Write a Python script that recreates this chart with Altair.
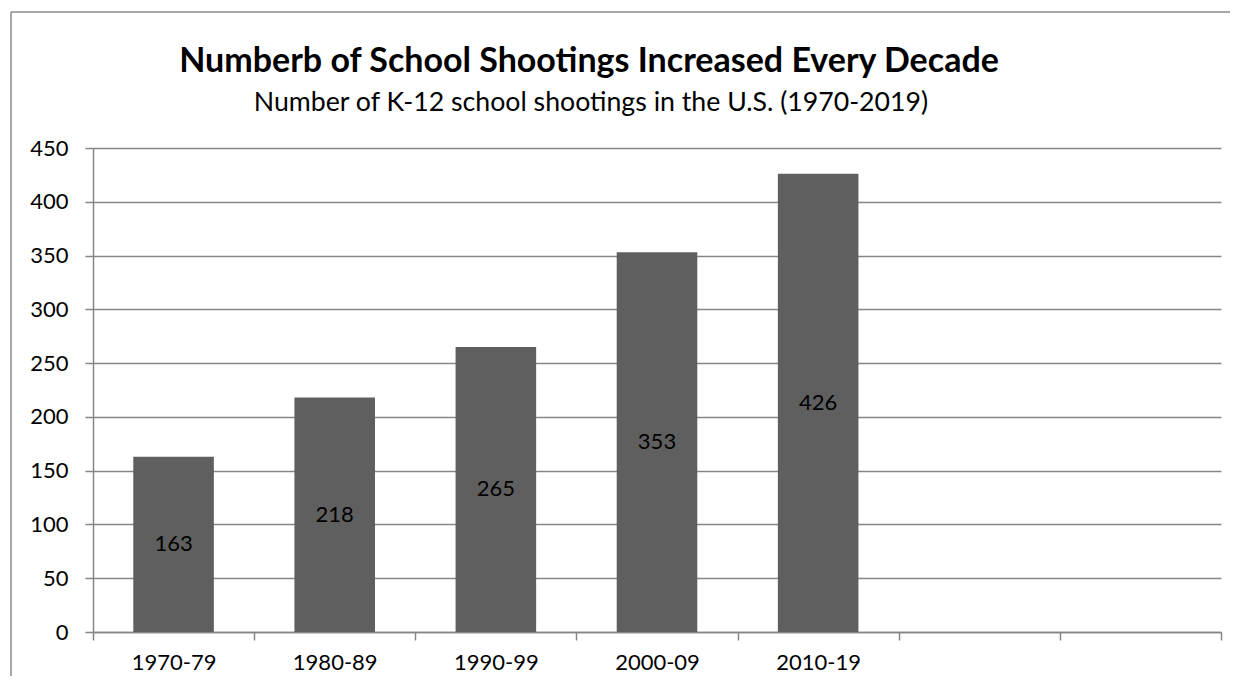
import altair as alt
import pandas as pd

decades = ["1970-79", "1980-89", "1990-99", "2000-09", "2010-19"]
shootings = [163, 218, 265, 353, 426]
empty_slots = [" ", "  "]
y_ticks = [0, 50, 100, 150, 200, 250, 300, 350, 400, 450]

title_text = "Numberb of School Shootings Increased Every Decade"
subtitle_text = "Number of K-12 school shootings in the U.S. (1970-2019)"

df = pd.DataFrame({"decade": decades, "count": shootings})
domain = decades + empty_slots

FONT = "Lato"
GRAY = "#868686"

x_scale = alt.Scale(domain=domain, paddingInner=0, paddingOuter=0)
y_scale = alt.Scale(domain=[0, 450], nice=False)

x_enc = alt.X(
    "decade:N",
    scale=x_scale,
    axis=alt.Axis(
        title=None, labelAngle=0, tickBand="extent", tickSize=8,
        labelPadding=12, labelFontSize=22, labelFont=FONT, labelColor="black",
        domainColor=GRAY, tickColor=GRAY, grid=False, domainWidth=1.5, tickWidth=1.5,
    ),
)
y_enc = alt.Y(
    "count:Q",
    scale=y_scale,
    axis=alt.Axis(
        title=None, values=y_ticks, tickSize=8, labelPadding=17,
        labelFontSize=22, labelFont=FONT, labelColor="black",
        domainColor=GRAY, tickColor=GRAY, gridColor=GRAY, gridWidth=1.3,
        domainWidth=1.5, tickWidth=1.5,
    ),
)

bars = alt.Chart(df).mark_bar(
    color="#5f5f5f", width=alt.RelativeBandSize(0.5)
).encode(x=x_enc, y=y_enc)

labels = alt.Chart(df).transform_calculate(mid="datum.count / 2").mark_text(
    font=FONT, fontSize=22, color="black", baseline="middle", align="center"
).encode(
    x=alt.X("decade:N", scale=x_scale),
    y=alt.Y("mid:Q", scale=y_scale),
    text=alt.Text("count:Q"),
)

one = pd.DataFrame({"k": [0]})
frame_top = alt.Chart(one).mark_rule(color="#8a8a8a", strokeWidth=1.5).encode(
    x=alt.value(-82), x2=alt.value(1137), y=alt.value(-136)
)
frame_left = alt.Chart(one).mark_rule(color="#8a8a8a", strokeWidth=1.5).encode(
    x=alt.value(-82), y=alt.value(-136), y2=alt.value(528)
)

title_df = pd.DataFrame({"t": [title_text]})
subtitle_df = pd.DataFrame({"t": [subtitle_text]})
title_mark = alt.Chart(title_df).mark_text(
    font=FONT, fontSize=34, fontWeight="bold", color="black",
    align="center", baseline="alphabetic"
).encode(x=alt.value(496), y=alt.value(-76), text="t:N")
subtitle_mark = alt.Chart(subtitle_df).mark_text(
    font=FONT, fontSize=26.7, color="black", align="center", baseline="alphabetic"
).encode(x=alt.value(498), y=alt.value(-37), text="t:N")

chart = alt.layer(frame_top, frame_left, bars, labels, title_mark, subtitle_mark).properties(
    width=1128,
    height=484,
    padding={"left": 85, "top": 140, "right": 10, "bottom": 45},
    autosize=alt.AutoSizeParams(type="none"),
).configure_view(stroke=None)

chart.save("out.html", embed_options={"renderer": "svg", "actions": False})
